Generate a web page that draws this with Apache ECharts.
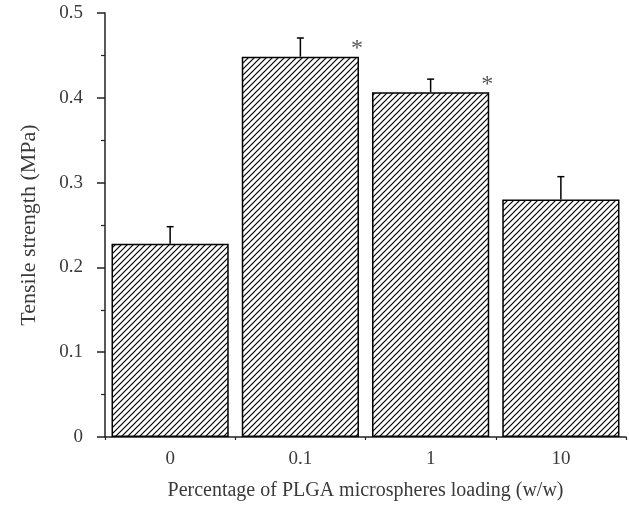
<!DOCTYPE html>
<html>
<head>
<meta charset="utf-8">
<script src="https://cdn.jsdelivr.net/npm/echarts@6/dist/echarts.min.js"></script>
<style>html,body{margin:0;padding:0;background:#fff}#c{width:629px;height:509px}</style>
</head>
<body>
<div id="c"></div>
<script>
// Data
const categories = ['0', '0.1', '1', '10'];
const means = [0.228, 0.4485, 0.4065, 0.280];
const errors = [0.020, 0.022, 0.0155, 0.027];
const marks = ['', '*', '*', ''];
const yTicks = [0, 0.1, 0.2, 0.3, 0.4, 0.5];

// hatch pattern
const pc = document.createElement('canvas');
const P = 6;
pc.width = P; pc.height = P;
const g = pc.getContext('2d');
g.fillStyle = '#fff'; g.fillRect(0, 0, P, P);
g.strokeStyle = '#000'; g.lineWidth = 1.2;
g.beginPath();
g.moveTo(-1, P + 1); g.lineTo(P + 1, -1);
g.moveTo(-1, 1); g.lineTo(1, -1);
g.moveTo(P - 1, P + 1); g.lineTo(P + 1, P - 1);
g.stroke();

const font = '"Liberation Serif", "DejaVu Serif", serif';
const chart = echarts.init(document.getElementById('c'), null, {renderer: 'canvas'});
const axisColor = '#222';
const textColor = '#3a3a3a';
chart.setOption({
  animation: false,
  backgroundColor: '#fff',
  grid: {left: 105, right: 3, top: 13, bottom: 72, containLabel: false},
  xAxis: [{
    type: 'category', data: categories, position: 'bottom',
    axisLine: {lineStyle: {color: axisColor, width: 1.5}},
    axisTick: {alignWithLabel: true, length: 6, lineStyle: {color: axisColor, width: 1.5}},
    axisLabel: {color: textColor, fontFamily: font, fontSize: 19, margin: 13},
    name: 'Percentage of PLGA microspheres loading (w/w)',
    nameLocation: 'middle', nameGap: 44,
    nameTextStyle: {color: textColor, fontFamily: font, fontSize: 20}
  }, {
    type: 'category', data: categories, position: 'bottom',
    axisLine: {show: false},
    axisTick: {show: true, alignWithLabel: false, length: 3, lineStyle: {color: axisColor, width: 1.2}},
    axisLabel: {show: false}
  }],
  yAxis: {
    type: 'value', min: yTicks[0], max: yTicks[yTicks.length - 1], interval: 0.1,
    axisLine: {show: true, lineStyle: {color: axisColor, width: 1.5}},
    axisTick: {show: true, length: 8, lineStyle: {color: axisColor, width: 1.5}},
    minorTick: {show: true, splitNumber: 2, length: 4, lineStyle: {color: axisColor, width: 1.2}},
    splitLine: {show: false},
    axisLabel: {color: textColor, fontFamily: font, fontSize: 19, margin: 22},
    name: 'Tensile strength (MPa)', nameLocation: 'middle', nameGap: 65,
    nameTextStyle: {color: textColor, fontFamily: font, fontSize: 22}
  },
  series: [{
    type: 'bar', data: means, barWidth: '90%',
    itemStyle: {color: {image: pc, repeat: 'repeat'}, borderColor: '#000', borderWidth: 1.5},
    z: 2
  }, {
    type: 'custom', z: 3,
    data: means.map((m, i) => [i, m, errors[i]]),
    renderItem: function (params, api) {
      const i = api.value(0), m = api.value(1), e = api.value(2);
      const mk = marks[i];
      const p0 = api.coord([i, m]);
      const p1 = api.coord([i, m + e]);
      const bw = api.size([1, 0])[0];
      const cap = 3.5;
      const children = [
        {type: 'line', shape: {x1: p0[0], y1: p0[1], x2: p1[0], y2: p1[1]}, style: {stroke: '#000', lineWidth: 1.5}},
        {type: 'line', shape: {x1: p1[0] - cap, y1: p1[1], x2: p1[0] + cap, y2: p1[1]}, style: {stroke: '#000', lineWidth: 1.5}}
      ];
      if (mk) {
        children.push({type: 'text', style: {text: mk, x: p0[0] + bw * 0.45 - 2, y: p0[1] + 4,
          textAlign: 'center', textVerticalAlign: 'bottom', fill: '#555', font: '24px ' + font}});
      }
      return {type: 'group', children: children};
    }
  }]
});
</script>
</body>
</html>
